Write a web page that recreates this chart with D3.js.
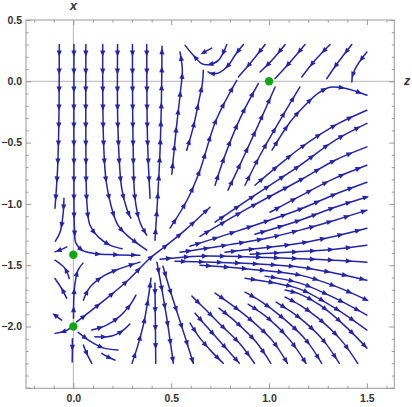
<!DOCTYPE html>
<html>
<head>
<meta charset="utf-8">
<script src="https://cdn.jsdelivr.net/npm/d3@7"></script>
<style>
body { margin: 0; background: #fff; }
text { font-family: "Liberation Sans", Arial, sans-serif; }
</style>
</head>
<body>
<svg id="chart" width="412" height="407"></svg>
<script>
// stream lines, as [z, x] points in flow order

// down-going lines of the upper left
const leftDownLines = [
  [[-0.072,0.3],[-0.074,-0.32],[-0.081,-0.725],[-0.094,-1.035]],
  [[-0.048,-0.954],[-0.053,-1.092],[-0.068,-1.231],[-0.092,-1.304]],
  [[0.003,0.3],[0.003,-0.56],[0.006,-1.214],[0.013,-1.32],[0.044,-1.377],[0.11,-1.406],[0.213,-1.414],[0.34,-1.418]],
  [[0.064,0.3],[0.064,-0.56],[0.07,-1.011],[0.085,-1.174],[0.127,-1.269],[0.187,-1.336],[0.249,-1.365]],
  [[0.15,0.3],[0.154,-0.48],[0.167,-0.807],[0.192,-1.011],[0.228,-1.174],[0.279,-1.263],[0.375,-1.377]],
  [[0.226,0.3],[0.228,-0.4],[0.247,-0.872],[0.275,-1.05],[0.294,-1.117]],
  [[0.302,0.3],[0.305,-0.48],[0.315,-0.954],[0.34,-1.147],[0.375,-1.255]],
  [[0.375,0.3],[0.379,-0.48],[0.392,-0.954]]
];

// curls near the top, left of (1, 0)
const saddleLines = [
  [[0.784,0.3],[0.741,0.171],[0.69,0.136],[0.656,0.144],[0.613,0.212],[0.571,0.293]],
  [[0.707,0.271],[0.664,0.234]],
  [[0.869,0.3],[0.826,0.212],[0.792,0.13],[0.749,0.073],[0.714,0.061],[0.688,0.077]]
];

// down-left lines above x = 0
const topRightLines = [
  [[0.98,0.3],[0.908,0.155],[0.843,0.035]],
  [[1.082,0.3],[1.015,0.171],[0.954,0.076]],
  [[1.184,0.3],[1.107,0.155],[1.031,0.022]],
  [[1.312,0.3],[1.235,0.171],[1.167,0.035]],
  [[1.423,0.3],[1.353,0.155],[1.295,0.022]],
  [[1.5,0.239],[1.45,0.13],[1.427,0.049],[1.423,-0.006]]
];

// lines leaving the crossing point upward
const fanUpLines = [
  [[0.417,-1.296],[0.43,-0.97],[0.443,-0.562],[0.45,-0.155],[0.453,0.285]],
  [[0.503,-0.758],[0.525,-0.4],[0.548,-0.073],[0.557,0.09],[0.545,0.239]],
  [[0.579,-0.562],[0.613,-0.372],[0.642,-0.155],[0.66,-0.008],[0.664,0.09]],
  [[0.494,-1.198],[0.581,-0.97],[0.647,-0.725],[0.729,-0.318],[0.835,0.008]],
  [[0.724,-0.848],[0.775,-0.603],[0.852,-0.302],[0.945,-0.019]],
  [[0.79,-0.888],[0.862,-0.644],[0.944,-0.359],[1.031,-0.046]],
  [[0.877,-0.848],[0.954,-0.603],[1.056,-0.318],[1.158,-0.046]],
  [[1.015,-0.562],[1.107,-0.334],[1.184,-0.196],[1.25,-0.098],[1.312,-0.049],[1.388,-0.057],[1.5,-0.114]],
  [[0.017,-1.962],[0.17,-1.771],[0.289,-1.608],[0.386,-1.451],[0.477,-1.337],[0.571,-1.214],[0.698,-1.027]]
];

// lines leaving toward the right edge
const fanRightLines = [
  [[0.928,-0.848],[1.056,-0.676],[1.158,-0.546],[1.337,-0.359],[1.5,-0.236]],
  [[0.724,-1.149],[0.928,-0.929],[1.158,-0.685],[1.337,-0.481],[1.5,-0.343]],
  [[0.647,-1.264],[0.903,-1.027],[1.158,-0.807],[1.337,-0.644],[1.5,-0.535]],
  [[1.005,-1.068],[1.158,-0.937],[1.337,-0.79],[1.5,-0.685]],
  [[0.596,-1.345],[0.852,-1.214],[1.158,-1.043],[1.337,-0.921],[1.5,-0.823]],
  [[0.928,-1.247],[1.158,-1.133],[1.337,-1.027],[1.5,-0.943]],
  [[0.545,-1.394],[0.749,-1.345],[0.988,-1.28],[1.158,-1.214],[1.337,-1.133],[1.5,-1.051]],
  [[0.775,-1.394],[0.954,-1.361],[1.158,-1.32],[1.337,-1.263],[1.5,-1.198]],
  [[0.903,-1.41],[1.158,-1.389],[1.337,-1.369],[1.5,-1.337]],
  [[0.443,-1.451],[0.647,-1.426],[0.988,-1.437],[1.327,-1.459],[1.5,-1.475]],
  [[0.519,-1.467],[0.852,-1.483],[1.158,-1.516],[1.337,-1.565],[1.5,-1.622]],
  [[0.647,-1.5],[0.903,-1.532],[1.158,-1.581],[1.337,-1.671],[1.5,-1.785]],
  [[0.98,-1.589],[1.158,-1.646],[1.337,-1.769],[1.5,-1.907]],
  [[0.877,-1.606],[1.031,-1.646],[1.158,-1.695],[1.337,-1.85],[1.5,-2.029]],
  [[1.082,-1.703],[1.158,-1.736],[1.261,-1.826],[1.389,-1.997],[1.5,-2.176]]
];

// lines bending down to the bottom edge
const fanDownLines = [
  [[1.082,-1.76],[1.158,-1.826],[1.251,-1.932],[1.368,-2.111],[1.453,-2.3]],
  [[1.036,-1.801],[1.158,-1.932],[1.276,-2.111],[1.359,-2.3]],
  [[0.877,-1.72],[0.964,-1.801],[1.072,-1.932],[1.189,-2.111],[1.269,-2.3]],
  [[0.893,-1.817],[0.995,-1.932],[1.107,-2.111],[1.189,-2.3]],
  [[0.724,-1.728],[0.811,-1.826],[0.908,-1.948],[1.015,-2.111],[1.094,-2.3]],
  [[0.744,-1.85],[0.831,-1.964],[0.934,-2.127],[1.009,-2.3]],
  [[0.606,-1.752],[0.678,-1.866],[0.755,-1.989],[0.852,-2.143],[0.925,-2.3]],
  [[0.622,-1.891],[0.688,-2.013],[0.775,-2.168],[0.848,-2.3]],
  [[0.596,-1.972],[0.647,-2.095],[0.709,-2.209],[0.766,-2.3]],
  [[0.458,-1.508],[0.494,-1.703],[0.535,-1.907],[0.576,-2.111],[0.613,-2.3]],
  [[0.427,-1.475],[0.453,-1.703],[0.479,-1.948],[0.511,-2.3]],
  [[0.417,-1.646],[0.419,-1.948],[0.421,-2.3]]
];

// lines around the two points on z = 0
const lowerLeftLines = [
  [[-0.034,-1.35],[-0.063,-1.373],[-0.094,-1.391]],
  [[-0.021,-1.608],[-0.043,-1.526],[-0.094,-1.459]],
  [[-0.034,-1.771],[-0.06,-1.69],[-0.094,-1.608]],
  [[-0.06,-1.948],[-0.094,-1.907]],
  [[-0.012,-2.009],[-0.043,-2.038],[-0.094,-2.056]],
  [[-0.005,-2.1],[-0.005,-2.19],[-0.006,-2.29]],
  [[0.051,-2.152],[0.07,-2.225],[0.094,-2.3]],
  [[0.145,-2.219],[0.177,-2.249],[0.213,-2.274]],
  [[0.025,-2.048],[0.085,-2.119],[0.153,-2.174],[0.228,-2.192]],
  [[0.11,-2.084],[0.196,-2.078],[0.248,-2.038],[0.289,-1.98]],
  [[0.3,-2.3],[0.33,-2.152],[0.361,-1.964],[0.381,-1.785],[0.397,-1.606]],
  [[0.094,-2.029],[0.17,-1.989],[0.238,-1.915],[0.289,-1.826],[0.32,-1.744]],
  [[0.051,-1.785],[0.085,-1.679],[0.153,-1.589],[0.238,-1.528],[0.34,-1.475]],
  [[0.001,-1.932],[0.003,-1.744],[0.011,-1.622],[0.024,-1.54],[0.049,-1.483]]
];

const fixedPoints = [[0, -1.4142], [0, -2], [1, 0]];

const zLabelTicks = [0, 0.5, 1, 1.5];
const xLabelTicks = [0.5, 0, -0.5, -1, -1.5, -2];
const zFrameTicks = d3.range(-2, 17).map(i => i / 10);
const xFrameTicks = d3.range(-25, 6).map(i => i / 10);

const svg = d3.select("svg#chart");
const lineColor = "rgb(36,36,168)";

const x = d3.scaleLinear().domain([-0.242, 1.64]).range([26, 394.3]);
const y = d3.scaleLinear().domain([-2.504, 0.5]).range([388.3, 20]);

const fLeft = x.range()[0], fRight = x.range()[1];
const fTop = y.range()[1], fBottom = y.range()[0];

// axes through the origin
svg.append("line")
  .attr("x1", x(0)).attr("x2", x(0))
  .attr("y1", fTop).attr("y2", fBottom)
  .attr("stroke", "#b5b5b5");
svg.append("line")
  .attr("x1", fLeft).attr("x2", fRight)
  .attr("y1", y(0)).attr("y2", y(0))
  .attr("stroke", "#b5b5b5");

// frame with inward ticks on all sides
const isMajor = v => Math.abs(v * 2 - Math.round(v * 2)) < 1e-9;

function frameSide(makeAxis, values, transform) {
  [[values.filter(v => !isMajor(v)), 2.5], [values.filter(isMajor), 5]].forEach(([vals, size]) => {
    const g = svg.append("g")
      .attr("transform", transform)
      .call(makeAxis().tickValues(vals).tickSize(size).tickFormat(""));
    g.select(".domain").remove();
    g.selectAll("line").attr("stroke", "#999");
  });
}
frameSide(() => d3.axisTop(x), zFrameTicks, `translate(0,${fBottom})`);
frameSide(() => d3.axisBottom(x), zFrameTicks, `translate(0,${fTop})`);
frameSide(() => d3.axisRight(y), xFrameTicks, `translate(${fLeft},0)`);
frameSide(() => d3.axisLeft(y), xFrameTicks, `translate(${fRight},0)`);

svg.append("rect")
  .attr("x", fLeft).attr("y", fTop)
  .attr("width", fRight - fLeft).attr("height", fBottom - fTop)
  .attr("fill", "none")
  .attr("stroke", "#999");

// tick labels
const fmt = d3.format(".1f");
const gLeft = svg.append("g")
  .attr("transform", `translate(${fLeft},0)`)
  .call(d3.axisLeft(y).tickValues(xLabelTicks).tickSize(0).tickPadding(4).tickFormat(fmt));
const gBottom = svg.append("g")
  .attr("transform", `translate(0,${fBottom})`)
  .call(d3.axisBottom(x).tickValues(zLabelTicks).tickSize(0).tickPadding(6).tickFormat(fmt));
[gLeft, gBottom].forEach(g => {
  g.select(".domain").remove();
  g.selectAll("text")
    .attr("font-family", "'Liberation Sans', Arial, sans-serif")
    .attr("font-size", "10.5px")
    .attr("font-weight", "bold")
    .attr("fill", "#333");
});

svg.append("text")
  .attr("x", x(0)).attr("y", 9.5)
  .attr("text-anchor", "middle")
  .attr("font-size", "12.5px")
  .attr("font-weight", "bold")
  .attr("font-style", "italic")
  .attr("fill", "#333")
  .text("x");

svg.append("text")
  .attr("x", 407).attr("y", 84.5)
  .attr("text-anchor", "middle")
  .attr("font-size", "12.5px")
  .attr("font-weight", "bold")
  .attr("font-style", "italic")
  .attr("fill", "#333")
  .text("z");

// stream lines
const line = d3.line()
  .x(d => x(d[0]))
  .y(d => y(d[1]))
  .curve(d3.curveCatmullRom.alpha(0.5));

const allLines = [].concat(leftDownLines, saddleLines, topRightLines,
  fanUpLines, fanRightLines, fanDownLines, lowerLeftLines);

const gStreams = svg.append("g").attr("class", "streams");
const gArrows = svg.append("g").attr("class", "arrows");

allLines.forEach(pts => {
  const path = gStreams.append("path")
    .datum(pts)
    .attr("d", line)
    .attr("fill", "none")
    .attr("stroke", lineColor)
    .attr("stroke-width", 1.5)
    .attr("stroke-linecap", "round");

  const node = path.node();
  const len = node.getTotalLength();
  let marks = d3.range(9, len - 1, 18);
  if (!marks.length) marks = [len];
  marks.forEach(s => {
    const p = node.getPointAtLength(s);
    const q = node.getPointAtLength(Math.max(0, s - 2));
    const a = Math.atan2(p.y - q.y, p.x - q.x);
    const c = Math.cos(a), sn = Math.sin(a);
    const tip = [p.x + 3.2 * c, p.y + 3.2 * sn];
    const bx = p.x - 3 * c, by = p.y - 3 * sn;
    const l = [bx - 2.6 * sn, by + 2.6 * c];
    const r = [bx + 2.6 * sn, by - 2.6 * c];
    gArrows.append("polygon")
      .attr("points", [tip, l, r].map(d => d.join(",")).join(" "))
      .attr("fill", lineColor);
  });
});

// fixed points
svg.append("g")
  .selectAll("circle")
  .data(fixedPoints)
  .enter().append("circle")
  .attr("cx", d => x(d[0]))
  .attr("cy", d => y(d[1]))
  .attr("r", 4.2)
  .attr("fill", "#10a810");
</script>
</body>
</html>
